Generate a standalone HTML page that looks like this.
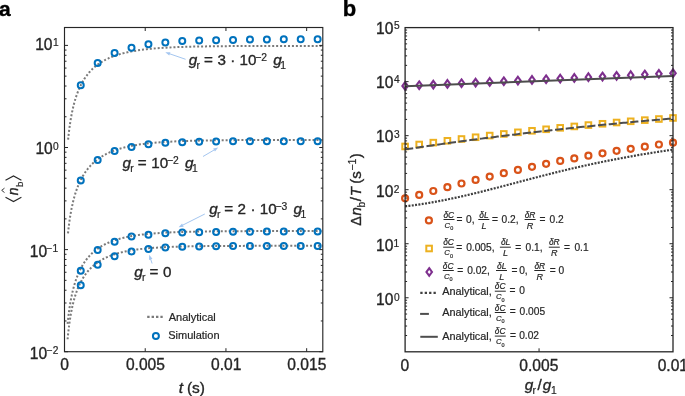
<!DOCTYPE html>
<html><head><meta charset="utf-8"><style>
html,body{margin:0;padding:0;background:#fff;}
body{width:685px;height:396px;overflow:hidden;}
svg{display:block;will-change:transform;font-family:"Liberation Sans", sans-serif;}
</style></head><body>
<svg width="685" height="396" viewBox="0 0 685 396">
<rect width="685" height="396" fill="#fff"/>
<text x="-0.91" y="15.60" font-size="21" font-weight="bold" fill="#000" stroke="#000" stroke-width="0.35" >a</text>
<text x="342.65" y="15.60" font-size="22" font-weight="bold" fill="#000" stroke="#000" stroke-width="0.35" >b</text>
<path d="M68.10,139.71 L68.48,135.96 L68.87,132.55 L69.25,129.42 L69.63,126.52 L70.02,123.84 L70.40,121.34 L70.78,119.00 L71.17,116.81 L71.55,114.74 L71.93,112.79 L72.32,110.94 L72.70,109.19 L73.09,107.52 L73.47,105.93 L73.85,104.42 L74.24,102.97 L74.62,101.59 L75.00,100.27 L75.39,98.99 L75.77,97.77 L76.15,96.60 L76.54,95.47 L76.92,94.38 L77.30,93.32 L77.69,92.31 L78.07,91.33 L78.45,90.38 L78.84,89.47 L79.22,88.58 L79.60,87.72 L79.99,86.89 L80.37,86.08 L80.76,85.30 L81.14,84.54 L81.52,83.80 L81.91,83.08 L82.29,82.38 L82.67,81.70 L83.06,81.04 L83.44,80.40 L83.82,79.77 L84.21,79.16 L84.59,78.57 L84.97,77.99 L85.36,77.42 L85.74,76.87 L86.12,76.33 L86.51,75.80 L86.89,75.29 L87.27,74.79 L87.66,74.30 L88.04,73.82 L88.42,73.35 L88.81,72.90 L89.19,72.45 L89.58,72.01 L89.96,71.58 L90.34,71.16 L90.73,70.75 L91.11,70.35 L91.49,69.96 L91.88,69.58 L92.26,69.20 L92.64,68.83 L93.03,68.47 L93.41,68.11 L93.79,67.77 L94.18,67.42 L94.56,67.09 L94.94,66.76 L95.33,66.44 L95.71,66.13 L96.09,65.82 L96.48,65.52 L96.86,65.22 L97.25,64.93 L97.63,64.64 L98.01,64.36 L98.40,64.08 L98.78,63.81 L99.16,63.54 L99.55,63.28 L99.93,63.03 L100.31,62.77 L100.70,62.53 L101.08,62.28 L101.46,62.04 L101.85,61.81 L102.23,61.58 L102.61,61.35 L103.00,61.13 L103.38,60.91 L103.76,60.69 L104.15,60.48 L104.53,60.27 L104.92,60.07 L105.30,59.87 L105.68,59.67 L106.07,59.47 L106.45,59.28 L106.83,59.09 L107.22,58.91 L107.60,58.72 L107.98,58.54 L108.37,58.37 L108.75,58.19 L109.13,58.02 L109.52,57.85 L109.90,57.69 L110.28,57.52 L110.67,57.36 L111.05,57.21 L111.43,57.05 L111.82,56.90 L112.20,56.75 L112.58,56.60 L112.97,56.45 L113.35,56.31 L113.74,56.16 L114.12,56.03 L114.50,55.89 L114.89,55.75 L115.27,55.62 L115.65,55.49 L116.04,55.36 L116.42,55.23 L116.80,55.10 L117.19,54.98 L117.57,54.86 L117.95,54.74 L118.34,54.62 L118.72,54.50 L119.10,54.39 L119.49,54.28 L119.87,54.16 L120.25,54.05 L120.64,53.95 L121.02,53.84 L121.41,53.73 L121.79,53.63 L122.17,53.53 L122.56,53.43 L122.94,53.33 L123.32,53.23 L123.71,53.13 L124.09,53.04 L124.47,52.94 L124.86,52.85 L125.24,52.76 L125.62,52.67 L126.01,52.58 L126.39,52.49 L126.77,52.41 L127.16,52.32 L127.54,52.24 L127.92,52.16 L128.31,52.08 L128.69,51.99 L129.07,51.92 L130.69,51.59 L133.95,51.00 L137.20,50.47 L140.46,50.00 L143.71,49.58 L146.97,49.20 L150.23,48.86 L153.48,48.56 L156.74,48.29 L159.99,48.05 L163.25,47.83 L166.51,47.63 L169.76,47.46 L173.02,47.30 L176.27,47.16 L179.53,47.03 L182.79,46.91 L186.04,46.81 L189.30,46.72 L192.56,46.63 L195.81,46.56 L199.07,46.49 L202.32,46.43 L205.58,46.38 L208.84,46.33 L212.09,46.28 L215.35,46.24 L218.60,46.20 L221.86,46.17 L225.12,46.14 L228.37,46.12 L231.63,46.09 L234.88,46.07 L238.14,46.05 L241.40,46.03 L244.65,46.02 L247.91,46.00 L251.17,45.99 L254.42,45.98 L257.68,45.97 L260.93,45.96 L264.19,45.95 L267.45,45.94 L270.70,45.94 L273.96,45.93 L277.21,45.92 L280.47,45.92 L283.73,45.91 L286.98,45.91 L290.24,45.91 L293.49,45.90 L296.75,45.90 L300.01,45.90 L303.26,45.90 L306.52,45.89 L309.78,45.89 L313.03,45.89 L316.29,45.89 L319.54,45.89 L322.80,45.88" fill="none" stroke="#7a7a7a" stroke-width="2.0" stroke-dasharray="2 1.95"/>
<path d="M68.00,233.39 L68.38,229.79 L68.77,226.50 L69.15,223.47 L69.54,220.66 L69.92,218.05 L70.30,215.62 L70.69,213.34 L71.07,211.19 L71.46,209.17 L71.84,207.26 L72.23,205.44 L72.61,203.72 L72.99,202.08 L73.38,200.52 L73.76,199.03 L74.15,197.60 L74.53,196.24 L74.91,194.93 L75.30,193.67 L75.68,192.46 L76.07,191.30 L76.45,190.18 L76.83,189.10 L77.22,188.06 L77.60,187.05 L77.99,186.08 L78.37,185.14 L78.76,184.23 L79.14,183.35 L79.52,182.49 L79.91,181.66 L80.29,180.86 L80.68,180.08 L81.06,179.32 L81.44,178.58 L81.83,177.87 L82.21,177.17 L82.60,176.49 L82.98,175.83 L83.36,175.19 L83.75,174.56 L84.13,173.95 L84.52,173.36 L84.90,172.78 L85.29,172.21 L85.67,171.66 L86.05,171.12 L86.44,170.59 L86.82,170.08 L87.21,169.58 L87.59,169.08 L87.97,168.60 L88.36,168.14 L88.74,167.68 L89.13,167.23 L89.51,166.79 L89.89,166.36 L90.28,165.94 L90.66,165.52 L91.05,165.12 L91.43,164.72 L91.82,164.34 L92.20,163.96 L92.58,163.59 L92.97,163.22 L93.35,162.86 L93.74,162.51 L94.12,162.17 L94.50,161.83 L94.89,161.50 L95.27,161.18 L95.66,160.86 L96.04,160.55 L96.42,160.24 L96.81,159.94 L97.19,159.65 L97.58,159.36 L97.96,159.07 L98.35,158.79 L98.73,158.52 L99.11,158.25 L99.50,157.98 L99.88,157.72 L100.27,157.47 L100.65,157.22 L101.03,156.97 L101.42,156.73 L101.80,156.49 L102.19,156.25 L102.57,156.02 L102.95,155.80 L103.34,155.57 L103.72,155.35 L104.11,155.14 L104.49,154.93 L104.88,154.72 L105.26,154.51 L105.64,154.31 L106.03,154.11 L106.41,153.92 L106.80,153.72 L107.18,153.53 L107.56,153.35 L107.95,153.16 L108.33,152.98 L108.72,152.81 L109.10,152.63 L109.48,152.46 L109.87,152.29 L110.25,152.12 L110.64,151.96 L111.02,151.80 L111.41,151.64 L111.79,151.48 L112.17,151.33 L112.56,151.18 L112.94,151.03 L113.33,150.88 L113.71,150.73 L114.09,150.59 L114.48,150.45 L114.86,150.31 L115.25,150.17 L115.63,150.04 L116.01,149.91 L116.40,149.77 L116.78,149.65 L117.17,149.52 L117.55,149.39 L117.94,149.27 L118.32,149.15 L118.70,149.03 L119.09,148.91 L119.47,148.79 L119.86,148.68 L120.24,148.56 L120.62,148.45 L121.01,148.34 L121.39,148.23 L121.78,148.13 L122.16,148.02 L122.54,147.92 L122.93,147.81 L123.31,147.71 L123.70,147.61 L124.08,147.52 L124.47,147.42 L124.85,147.32 L125.23,147.23 L125.62,147.14 L126.00,147.04 L126.39,146.95 L126.77,146.86 L127.15,146.78 L127.54,146.69 L127.92,146.60 L128.31,146.52 L128.69,146.44 L129.07,146.35 L130.69,146.02 L133.95,145.40 L137.20,144.85 L140.46,144.36 L143.71,143.92 L146.97,143.52 L150.23,143.16 L153.48,142.84 L156.74,142.56 L159.99,142.30 L163.25,142.07 L166.51,141.86 L169.76,141.67 L173.02,141.50 L176.27,141.35 L179.53,141.21 L182.79,141.08 L186.04,140.97 L189.30,140.87 L192.56,140.78 L195.81,140.69 L199.07,140.62 L202.32,140.55 L205.58,140.49 L208.84,140.43 L212.09,140.38 L215.35,140.34 L218.60,140.30 L221.86,140.26 L225.12,140.23 L228.37,140.20 L231.63,140.17 L234.88,140.14 L238.14,140.12 L241.40,140.10 L244.65,140.08 L247.91,140.07 L251.17,140.05 L254.42,140.04 L257.68,140.03 L260.93,140.02 L264.19,140.01 L267.45,140.00 L270.70,139.99 L273.96,139.98 L277.21,139.97 L280.47,139.97 L283.73,139.96 L286.98,139.96 L290.24,139.95 L293.49,139.95 L296.75,139.95 L300.01,139.94 L303.26,139.94 L306.52,139.94 L309.78,139.93 L313.03,139.93 L316.29,139.93 L319.54,139.93 L322.80,139.93" fill="none" stroke="#7a7a7a" stroke-width="2.0" stroke-dasharray="2 1.95"/>
<path d="M67.60,323.82 L67.99,320.04 L68.37,316.60 L68.76,313.44 L69.15,310.53 L69.53,307.83 L69.92,305.32 L70.31,302.97 L70.69,300.77 L71.08,298.69 L71.47,296.74 L71.85,294.88 L72.24,293.13 L72.63,291.46 L73.01,289.88 L73.40,288.36 L73.79,286.92 L74.17,285.53 L74.56,284.21 L74.95,282.94 L75.33,281.72 L75.72,280.55 L76.11,279.42 L76.49,278.34 L76.88,277.29 L77.27,276.28 L77.65,275.30 L78.04,274.36 L78.43,273.45 L78.81,272.57 L79.20,271.71 L79.59,270.88 L79.97,270.08 L80.36,269.30 L80.75,268.55 L81.13,267.82 L81.52,267.10 L81.91,266.41 L82.29,265.74 L82.68,265.08 L83.07,264.44 L83.45,263.82 L83.84,263.22 L84.23,262.63 L84.61,262.06 L85.00,261.50 L85.39,260.95 L85.77,260.42 L86.16,259.90 L86.55,259.39 L86.93,258.90 L87.32,258.41 L87.71,257.94 L88.09,257.48 L88.48,257.03 L88.86,256.59 L89.25,256.15 L89.64,255.73 L90.02,255.32 L90.41,254.92 L90.80,254.52 L91.18,254.13 L91.57,253.76 L91.96,253.38 L92.34,253.02 L92.73,252.67 L93.12,252.32 L93.50,251.98 L93.89,251.64 L94.28,251.31 L94.66,250.99 L95.05,250.68 L95.44,250.37 L95.82,250.07 L96.21,249.77 L96.60,249.48 L96.98,249.19 L97.37,248.91 L97.76,248.64 L98.14,248.36 L98.53,248.10 L98.92,247.84 L99.30,247.58 L99.69,247.33 L100.08,247.09 L100.46,246.84 L100.85,246.61 L101.24,246.37 L101.62,246.14 L102.01,245.92 L102.40,245.70 L102.78,245.48 L103.17,245.27 L103.56,245.06 L103.94,244.85 L104.33,244.65 L104.72,244.45 L105.10,244.25 L105.49,244.06 L105.88,243.87 L106.26,243.68 L106.65,243.50 L107.04,243.32 L107.42,243.14 L107.81,242.97 L108.20,242.79 L108.58,242.63 L108.97,242.46 L109.36,242.30 L109.74,242.14 L110.13,241.98 L110.52,241.82 L110.90,241.67 L111.29,241.52 L111.68,241.37 L112.06,241.22 L112.45,241.08 L112.84,240.94 L113.22,240.80 L113.61,240.66 L114.00,240.53 L114.38,240.40 L114.77,240.26 L115.16,240.14 L115.54,240.01 L115.93,239.88 L116.32,239.76 L116.70,239.64 L117.09,239.52 L117.48,239.40 L117.86,239.29 L118.25,239.17 L118.64,239.06 L119.02,238.95 L119.41,238.84 L119.80,238.74 L120.18,238.63 L120.57,238.53 L120.96,238.42 L121.34,238.32 L121.73,238.22 L122.12,238.13 L122.50,238.03 L122.89,237.93 L123.28,237.84 L123.66,237.75 L124.05,237.66 L124.44,237.57 L124.82,237.48 L125.21,237.39 L125.60,237.31 L125.98,237.22 L126.37,237.14 L126.76,237.05 L127.14,236.97 L127.53,236.89 L127.92,236.82 L128.30,236.74 L128.69,236.66 L129.07,236.59 L130.69,236.28 L133.95,235.72 L137.20,235.22 L140.46,234.78 L143.71,234.39 L146.97,234.03 L150.23,233.72 L153.48,233.44 L156.74,233.19 L159.99,232.96 L163.25,232.76 L166.51,232.58 L169.76,232.42 L173.02,232.28 L176.27,232.15 L179.53,232.03 L182.79,231.93 L186.04,231.84 L189.30,231.75 L192.56,231.68 L195.81,231.61 L199.07,231.55 L202.32,231.49 L205.58,231.45 L208.84,231.40 L212.09,231.36 L215.35,231.33 L218.60,231.29 L221.86,231.27 L225.12,231.24 L228.37,231.22 L231.63,231.20 L234.88,231.18 L238.14,231.16 L241.40,231.15 L244.65,231.13 L247.91,231.12 L251.17,231.11 L254.42,231.10 L257.68,231.09 L260.93,231.08 L264.19,231.07 L267.45,231.07 L270.70,231.06 L273.96,231.06 L277.21,231.05 L280.47,231.05 L283.73,231.04 L286.98,231.04 L290.24,231.04 L293.49,231.04 L296.75,231.03 L300.01,231.03 L303.26,231.03 L306.52,231.03 L309.78,231.02 L313.03,231.02 L316.29,231.02 L319.54,231.02 L322.80,231.02" fill="none" stroke="#7a7a7a" stroke-width="2.0" stroke-dasharray="2 1.95"/>
<path d="M67.60,339.27 L67.99,335.22 L68.37,331.56 L68.76,328.22 L69.15,325.15 L69.53,322.32 L69.92,319.69 L70.31,317.24 L70.69,314.95 L71.08,312.80 L71.47,310.78 L71.85,308.87 L72.24,307.06 L72.63,305.34 L73.01,303.71 L73.40,302.16 L73.79,300.68 L74.17,299.27 L74.56,297.92 L74.95,296.63 L75.33,295.38 L75.72,294.19 L76.11,293.05 L76.49,291.95 L76.88,290.88 L77.27,289.86 L77.65,288.87 L78.04,287.92 L78.43,287.00 L78.81,286.11 L79.20,285.25 L79.59,284.42 L79.97,283.61 L80.36,282.83 L80.75,282.07 L81.13,281.33 L81.52,280.62 L81.91,279.92 L82.29,279.25 L82.68,278.59 L83.07,277.96 L83.45,277.33 L83.84,276.73 L84.23,276.14 L84.61,275.57 L85.00,275.01 L85.39,274.47 L85.77,273.94 L86.16,273.42 L86.55,272.92 L86.93,272.43 L87.32,271.95 L87.71,271.48 L88.09,271.02 L88.48,270.57 L88.86,270.13 L89.25,269.71 L89.64,269.29 L90.02,268.88 L90.41,268.48 L90.80,268.09 L91.18,267.71 L91.57,267.34 L91.96,266.97 L92.34,266.61 L92.73,266.26 L93.12,265.92 L93.50,265.59 L93.89,265.26 L94.28,264.94 L94.66,264.62 L95.05,264.31 L95.44,264.01 L95.82,263.71 L96.21,263.42 L96.60,263.13 L96.98,262.85 L97.37,262.58 L97.76,262.31 L98.14,262.05 L98.53,261.79 L98.92,261.53 L99.30,261.28 L99.69,261.04 L100.08,260.80 L100.46,260.56 L100.85,260.33 L101.24,260.11 L101.62,259.88 L102.01,259.66 L102.40,259.45 L102.78,259.24 L103.17,259.03 L103.56,258.83 L103.94,258.63 L104.33,258.43 L104.72,258.24 L105.10,258.05 L105.49,257.86 L105.88,257.68 L106.26,257.50 L106.65,257.32 L107.04,257.15 L107.42,256.98 L107.81,256.81 L108.20,256.64 L108.58,256.48 L108.97,256.32 L109.36,256.16 L109.74,256.01 L110.13,255.86 L110.52,255.71 L110.90,255.56 L111.29,255.42 L111.68,255.27 L112.06,255.13 L112.45,255.00 L112.84,254.86 L113.22,254.73 L113.61,254.60 L114.00,254.47 L114.38,254.34 L114.77,254.22 L115.16,254.10 L115.54,253.97 L115.93,253.86 L116.32,253.74 L116.70,253.62 L117.09,253.51 L117.48,253.40 L117.86,253.29 L118.25,253.18 L118.64,253.07 L119.02,252.97 L119.41,252.87 L119.80,252.77 L120.18,252.67 L120.57,252.57 L120.96,252.47 L121.34,252.37 L121.73,252.28 L122.12,252.19 L122.50,252.10 L122.89,252.01 L123.28,251.92 L123.66,251.83 L124.05,251.75 L124.44,251.66 L124.82,251.58 L125.21,251.50 L125.60,251.42 L125.98,251.34 L126.37,251.26 L126.76,251.18 L127.14,251.11 L127.53,251.03 L127.92,250.96 L128.30,250.89 L128.69,250.81 L129.07,250.74 L130.69,250.46 L133.95,249.94 L137.20,249.48 L140.46,249.07 L143.71,248.71 L146.97,248.39 L150.23,248.11 L153.48,247.85 L156.74,247.63 L159.99,247.43 L163.25,247.25 L166.51,247.09 L169.76,246.95 L173.02,246.83 L176.27,246.71 L179.53,246.61 L182.79,246.52 L186.04,246.45 L189.30,246.37 L192.56,246.31 L195.81,246.25 L199.07,246.20 L202.32,246.16 L205.58,246.12 L208.84,246.08 L212.09,246.05 L215.35,246.02 L218.60,245.99 L221.86,245.97 L225.12,245.95 L228.37,245.93 L231.63,245.92 L234.88,245.90 L238.14,245.89 L241.40,245.88 L244.65,245.87 L247.91,245.86 L251.17,245.85 L254.42,245.84 L257.68,245.83 L260.93,245.83 L264.19,245.82 L267.45,245.82 L270.70,245.81 L273.96,245.81 L277.21,245.81 L280.47,245.80 L283.73,245.80 L286.98,245.80 L290.24,245.80 L293.49,245.80 L296.75,245.79 L300.01,245.79 L303.26,245.79 L306.52,245.79 L309.78,245.79 L313.03,245.79 L316.29,245.79 L319.54,245.79 L322.80,245.78" fill="none" stroke="#7a7a7a" stroke-width="2.0" stroke-dasharray="2 1.95"/>
<circle cx="80.75" cy="85.20" r="3.0" fill="none" stroke="#0072BD" stroke-width="2.0"/>
<circle cx="97.67" cy="63.00" r="3.0" fill="none" stroke="#0072BD" stroke-width="2.0"/>
<circle cx="114.59" cy="53.00" r="3.0" fill="none" stroke="#0072BD" stroke-width="2.0"/>
<circle cx="131.51" cy="47.80" r="3.0" fill="none" stroke="#0072BD" stroke-width="2.0"/>
<circle cx="148.43" cy="44.20" r="3.0" fill="none" stroke="#0072BD" stroke-width="2.0"/>
<circle cx="165.35" cy="42.60" r="3.0" fill="none" stroke="#0072BD" stroke-width="2.0"/>
<circle cx="182.27" cy="41.10" r="3.0" fill="none" stroke="#0072BD" stroke-width="2.0"/>
<circle cx="199.19" cy="40.50" r="3.0" fill="none" stroke="#0072BD" stroke-width="2.0"/>
<circle cx="216.11" cy="40.20" r="3.0" fill="none" stroke="#0072BD" stroke-width="2.0"/>
<circle cx="233.03" cy="39.90" r="3.0" fill="none" stroke="#0072BD" stroke-width="2.0"/>
<circle cx="249.95" cy="39.60" r="3.0" fill="none" stroke="#0072BD" stroke-width="2.0"/>
<circle cx="266.87" cy="39.40" r="3.0" fill="none" stroke="#0072BD" stroke-width="2.0"/>
<circle cx="283.79" cy="39.20" r="3.0" fill="none" stroke="#0072BD" stroke-width="2.0"/>
<circle cx="300.71" cy="39.20" r="3.0" fill="none" stroke="#0072BD" stroke-width="2.0"/>
<circle cx="317.63" cy="39.20" r="3.0" fill="none" stroke="#0072BD" stroke-width="2.0"/>
<circle cx="80.75" cy="180.40" r="3.0" fill="none" stroke="#0072BD" stroke-width="2.0"/>
<circle cx="97.67" cy="160.00" r="3.0" fill="none" stroke="#0072BD" stroke-width="2.0"/>
<circle cx="114.59" cy="151.00" r="3.0" fill="none" stroke="#0072BD" stroke-width="2.0"/>
<circle cx="131.51" cy="146.90" r="3.0" fill="none" stroke="#0072BD" stroke-width="2.0"/>
<circle cx="148.43" cy="144.20" r="3.0" fill="none" stroke="#0072BD" stroke-width="2.0"/>
<circle cx="165.35" cy="142.80" r="3.0" fill="none" stroke="#0072BD" stroke-width="2.0"/>
<circle cx="182.27" cy="142.20" r="3.0" fill="none" stroke="#0072BD" stroke-width="2.0"/>
<circle cx="199.19" cy="141.70" r="3.0" fill="none" stroke="#0072BD" stroke-width="2.0"/>
<circle cx="216.11" cy="141.50" r="3.0" fill="none" stroke="#0072BD" stroke-width="2.0"/>
<circle cx="233.03" cy="141.30" r="3.0" fill="none" stroke="#0072BD" stroke-width="2.0"/>
<circle cx="249.95" cy="141.20" r="3.0" fill="none" stroke="#0072BD" stroke-width="2.0"/>
<circle cx="266.87" cy="141.20" r="3.0" fill="none" stroke="#0072BD" stroke-width="2.0"/>
<circle cx="283.79" cy="141.20" r="3.0" fill="none" stroke="#0072BD" stroke-width="2.0"/>
<circle cx="300.71" cy="141.20" r="3.0" fill="none" stroke="#0072BD" stroke-width="2.0"/>
<circle cx="317.63" cy="141.20" r="3.0" fill="none" stroke="#0072BD" stroke-width="2.0"/>
<circle cx="80.75" cy="270.80" r="3.0" fill="none" stroke="#0072BD" stroke-width="2.0"/>
<circle cx="97.67" cy="250.10" r="3.0" fill="none" stroke="#0072BD" stroke-width="2.0"/>
<circle cx="114.59" cy="241.80" r="3.0" fill="none" stroke="#0072BD" stroke-width="2.0"/>
<circle cx="131.51" cy="236.50" r="3.0" fill="none" stroke="#0072BD" stroke-width="2.0"/>
<circle cx="148.43" cy="234.80" r="3.0" fill="none" stroke="#0072BD" stroke-width="2.0"/>
<circle cx="165.35" cy="233.20" r="3.0" fill="none" stroke="#0072BD" stroke-width="2.0"/>
<circle cx="182.27" cy="232.60" r="3.0" fill="none" stroke="#0072BD" stroke-width="2.0"/>
<circle cx="199.19" cy="232.20" r="3.0" fill="none" stroke="#0072BD" stroke-width="2.0"/>
<circle cx="216.11" cy="232.00" r="3.0" fill="none" stroke="#0072BD" stroke-width="2.0"/>
<circle cx="233.03" cy="231.80" r="3.0" fill="none" stroke="#0072BD" stroke-width="2.0"/>
<circle cx="249.95" cy="231.70" r="3.0" fill="none" stroke="#0072BD" stroke-width="2.0"/>
<circle cx="266.87" cy="231.60" r="3.0" fill="none" stroke="#0072BD" stroke-width="2.0"/>
<circle cx="283.79" cy="231.60" r="3.0" fill="none" stroke="#0072BD" stroke-width="2.0"/>
<circle cx="300.71" cy="231.60" r="3.0" fill="none" stroke="#0072BD" stroke-width="2.0"/>
<circle cx="317.63" cy="231.60" r="3.0" fill="none" stroke="#0072BD" stroke-width="2.0"/>
<circle cx="80.75" cy="285.20" r="3.0" fill="none" stroke="#0072BD" stroke-width="2.0"/>
<circle cx="97.67" cy="264.70" r="3.0" fill="none" stroke="#0072BD" stroke-width="2.0"/>
<circle cx="114.59" cy="256.20" r="3.0" fill="none" stroke="#0072BD" stroke-width="2.0"/>
<circle cx="131.51" cy="251.40" r="3.0" fill="none" stroke="#0072BD" stroke-width="2.0"/>
<circle cx="148.43" cy="249.10" r="3.0" fill="none" stroke="#0072BD" stroke-width="2.0"/>
<circle cx="165.35" cy="247.40" r="3.0" fill="none" stroke="#0072BD" stroke-width="2.0"/>
<circle cx="182.27" cy="246.80" r="3.0" fill="none" stroke="#0072BD" stroke-width="2.0"/>
<circle cx="199.19" cy="246.40" r="3.0" fill="none" stroke="#0072BD" stroke-width="2.0"/>
<circle cx="216.11" cy="246.20" r="3.0" fill="none" stroke="#0072BD" stroke-width="2.0"/>
<circle cx="233.03" cy="246.10" r="3.0" fill="none" stroke="#0072BD" stroke-width="2.0"/>
<circle cx="249.95" cy="246.00" r="3.0" fill="none" stroke="#0072BD" stroke-width="2.0"/>
<circle cx="266.87" cy="246.00" r="3.0" fill="none" stroke="#0072BD" stroke-width="2.0"/>
<circle cx="283.79" cy="246.00" r="3.0" fill="none" stroke="#0072BD" stroke-width="2.0"/>
<circle cx="300.71" cy="246.00" r="3.0" fill="none" stroke="#0072BD" stroke-width="2.0"/>
<circle cx="317.63" cy="246.00" r="3.0" fill="none" stroke="#0072BD" stroke-width="2.0"/>
<rect x="64.5" y="27.5" width="258.3" height="324.2" fill="none" stroke="#262626" stroke-width="1.15"/>
<line x1="145.22" y1="351.70" x2="145.22" y2="348.20" stroke="#262626" stroke-width="1" />
<line x1="145.22" y1="27.50" x2="145.22" y2="31.00" stroke="#262626" stroke-width="1" />
<line x1="225.94" y1="351.70" x2="225.94" y2="348.20" stroke="#262626" stroke-width="1" />
<line x1="225.94" y1="27.50" x2="225.94" y2="31.00" stroke="#262626" stroke-width="1" />
<line x1="306.66" y1="351.70" x2="306.66" y2="348.20" stroke="#262626" stroke-width="1" />
<line x1="306.66" y1="27.50" x2="306.66" y2="31.00" stroke="#262626" stroke-width="1" />
<line x1="64.50" y1="351.70" x2="68.00" y2="351.70" stroke="#262626" stroke-width="1" />
<line x1="322.80" y1="351.70" x2="319.30" y2="351.70" stroke="#262626" stroke-width="1" />
<line x1="64.50" y1="320.96" x2="66.50" y2="320.96" stroke="#262626" stroke-width="1" />
<line x1="322.80" y1="320.96" x2="320.80" y2="320.96" stroke="#262626" stroke-width="1" />
<line x1="64.50" y1="302.99" x2="66.50" y2="302.99" stroke="#262626" stroke-width="1" />
<line x1="322.80" y1="302.99" x2="320.80" y2="302.99" stroke="#262626" stroke-width="1" />
<line x1="64.50" y1="290.23" x2="66.50" y2="290.23" stroke="#262626" stroke-width="1" />
<line x1="322.80" y1="290.23" x2="320.80" y2="290.23" stroke="#262626" stroke-width="1" />
<line x1="64.50" y1="280.34" x2="66.50" y2="280.34" stroke="#262626" stroke-width="1" />
<line x1="322.80" y1="280.34" x2="320.80" y2="280.34" stroke="#262626" stroke-width="1" />
<line x1="64.50" y1="272.25" x2="66.50" y2="272.25" stroke="#262626" stroke-width="1" />
<line x1="322.80" y1="272.25" x2="320.80" y2="272.25" stroke="#262626" stroke-width="1" />
<line x1="64.50" y1="265.42" x2="66.50" y2="265.42" stroke="#262626" stroke-width="1" />
<line x1="322.80" y1="265.42" x2="320.80" y2="265.42" stroke="#262626" stroke-width="1" />
<line x1="64.50" y1="259.49" x2="66.50" y2="259.49" stroke="#262626" stroke-width="1" />
<line x1="322.80" y1="259.49" x2="320.80" y2="259.49" stroke="#262626" stroke-width="1" />
<line x1="64.50" y1="254.27" x2="66.50" y2="254.27" stroke="#262626" stroke-width="1" />
<line x1="322.80" y1="254.27" x2="320.80" y2="254.27" stroke="#262626" stroke-width="1" />
<line x1="64.50" y1="249.60" x2="68.00" y2="249.60" stroke="#262626" stroke-width="1" />
<line x1="322.80" y1="249.60" x2="319.30" y2="249.60" stroke="#262626" stroke-width="1" />
<line x1="64.50" y1="218.86" x2="66.50" y2="218.86" stroke="#262626" stroke-width="1" />
<line x1="322.80" y1="218.86" x2="320.80" y2="218.86" stroke="#262626" stroke-width="1" />
<line x1="64.50" y1="200.89" x2="66.50" y2="200.89" stroke="#262626" stroke-width="1" />
<line x1="322.80" y1="200.89" x2="320.80" y2="200.89" stroke="#262626" stroke-width="1" />
<line x1="64.50" y1="188.13" x2="66.50" y2="188.13" stroke="#262626" stroke-width="1" />
<line x1="322.80" y1="188.13" x2="320.80" y2="188.13" stroke="#262626" stroke-width="1" />
<line x1="64.50" y1="178.24" x2="66.50" y2="178.24" stroke="#262626" stroke-width="1" />
<line x1="322.80" y1="178.24" x2="320.80" y2="178.24" stroke="#262626" stroke-width="1" />
<line x1="64.50" y1="170.15" x2="66.50" y2="170.15" stroke="#262626" stroke-width="1" />
<line x1="322.80" y1="170.15" x2="320.80" y2="170.15" stroke="#262626" stroke-width="1" />
<line x1="64.50" y1="163.32" x2="66.50" y2="163.32" stroke="#262626" stroke-width="1" />
<line x1="322.80" y1="163.32" x2="320.80" y2="163.32" stroke="#262626" stroke-width="1" />
<line x1="64.50" y1="157.39" x2="66.50" y2="157.39" stroke="#262626" stroke-width="1" />
<line x1="322.80" y1="157.39" x2="320.80" y2="157.39" stroke="#262626" stroke-width="1" />
<line x1="64.50" y1="152.17" x2="66.50" y2="152.17" stroke="#262626" stroke-width="1" />
<line x1="322.80" y1="152.17" x2="320.80" y2="152.17" stroke="#262626" stroke-width="1" />
<line x1="64.50" y1="147.50" x2="68.00" y2="147.50" stroke="#262626" stroke-width="1" />
<line x1="322.80" y1="147.50" x2="319.30" y2="147.50" stroke="#262626" stroke-width="1" />
<line x1="64.50" y1="116.76" x2="66.50" y2="116.76" stroke="#262626" stroke-width="1" />
<line x1="322.80" y1="116.76" x2="320.80" y2="116.76" stroke="#262626" stroke-width="1" />
<line x1="64.50" y1="98.79" x2="66.50" y2="98.79" stroke="#262626" stroke-width="1" />
<line x1="322.80" y1="98.79" x2="320.80" y2="98.79" stroke="#262626" stroke-width="1" />
<line x1="64.50" y1="86.03" x2="66.50" y2="86.03" stroke="#262626" stroke-width="1" />
<line x1="322.80" y1="86.03" x2="320.80" y2="86.03" stroke="#262626" stroke-width="1" />
<line x1="64.50" y1="76.14" x2="66.50" y2="76.14" stroke="#262626" stroke-width="1" />
<line x1="322.80" y1="76.14" x2="320.80" y2="76.14" stroke="#262626" stroke-width="1" />
<line x1="64.50" y1="68.05" x2="66.50" y2="68.05" stroke="#262626" stroke-width="1" />
<line x1="322.80" y1="68.05" x2="320.80" y2="68.05" stroke="#262626" stroke-width="1" />
<line x1="64.50" y1="61.22" x2="66.50" y2="61.22" stroke="#262626" stroke-width="1" />
<line x1="322.80" y1="61.22" x2="320.80" y2="61.22" stroke="#262626" stroke-width="1" />
<line x1="64.50" y1="55.29" x2="66.50" y2="55.29" stroke="#262626" stroke-width="1" />
<line x1="322.80" y1="55.29" x2="320.80" y2="55.29" stroke="#262626" stroke-width="1" />
<line x1="64.50" y1="50.07" x2="66.50" y2="50.07" stroke="#262626" stroke-width="1" />
<line x1="322.80" y1="50.07" x2="320.80" y2="50.07" stroke="#262626" stroke-width="1" />
<line x1="64.50" y1="45.40" x2="68.00" y2="45.40" stroke="#262626" stroke-width="1" />
<line x1="322.80" y1="45.40" x2="319.30" y2="45.40" stroke="#262626" stroke-width="1" />
<text x="60.36" y="370.40" font-size="15.6" fill="#262626" stroke="#262626" stroke-width="0.35" >0</text>
<text x="125.92" y="370.40" font-size="15.6" fill="#262626" stroke="#262626" stroke-width="0.35" >0.005</text>
<text x="211.03" y="370.40" font-size="15.6" fill="#262626" stroke="#262626" stroke-width="0.35" >0.01</text>
<text x="287.36" y="370.40" font-size="15.6" fill="#262626" stroke="#262626" stroke-width="0.35" >0.015</text>
<text x="35.13" y="50.30" font-size="15.6" fill="#262626" stroke="#262626" stroke-width="0.35" >10</text>
<text x="52.92" y="45.50" font-size="10.2" fill="#262626" stroke="#262626" stroke-width="0.2" >1</text>
<text x="35.43" y="154.40" font-size="15.6" fill="#262626" stroke="#262626" stroke-width="0.35" >10</text>
<text x="53.00" y="150.00" font-size="10.2" fill="#262626" stroke="#262626" stroke-width="0.2" >0</text>
<text x="29.78" y="256.70" font-size="15.6" fill="#262626" stroke="#262626" stroke-width="0.35" >10</text>
<text x="46.50" y="251.80" font-size="10.2" fill="#262626" stroke="#262626" stroke-width="0.2" >−1</text>
<text x="29.73" y="358.80" font-size="15.6" fill="#262626" stroke="#262626" stroke-width="0.35" >10</text>
<text x="46.70" y="354.40" font-size="10.2" fill="#262626" stroke="#262626" stroke-width="0.2" >−2</text>
<text x="178.80" y="392.50" font-size="15.5" font-style="italic" fill="#262626" stroke="#262626" stroke-width="0.35" >t</text>
<text x="186.94" y="392.50" font-size="15.5" fill="#262626" stroke="#262626" stroke-width="0.35" >(s)</text>
<g transform="translate(17.7,188.75) rotate(-90)">
<path d="M-8.55,-12.2 L-12.85,-4.2 L-8.55,3.7" fill="none" stroke="#262626" stroke-width="1.1"/>
<path d="M8.55,-12.2 L12.85,-4.2 L8.55,3.7" fill="none" stroke="#262626" stroke-width="1.1"/>
<text x="-6.48" y="0.00" font-size="13.8" font-style="italic" fill="#262626" stroke="#262626" stroke-width="0.35" >n</text>
<path d="M-3.8,-13.2 L-1.6,-16.0 L0.6,-13.2" fill="none" stroke="#262626" stroke-width="0.9"/>
<text x="1.84" y="5.00" font-size="9.5" fill="#262626" stroke="#262626" stroke-width="0.2" >b</text>
</g>
<line x1="185.60" y1="59.30" x2="169.37" y2="53.70" stroke="#a4c6f0" stroke-width="1.0" />
<path d="M165.30,52.30 L170.42,52.16 L169.25,55.57 Z" fill="#a4c6f0"/>
<line x1="203.00" y1="156.50" x2="214.49" y2="149.77" stroke="#a4c6f0" stroke-width="1.0" />
<path d="M218.20,147.60 L214.97,151.58 L213.15,148.47 Z" fill="#a4c6f0"/>
<line x1="204.80" y1="214.00" x2="182.44" y2="225.27" stroke="#a4c6f0" stroke-width="1.0" />
<path d="M178.60,227.20 L182.08,223.43 L183.70,226.65 Z" fill="#a4c6f0"/>
<line x1="152.10" y1="263.50" x2="150.56" y2="258.88" stroke="#a4c6f0" stroke-width="1.0" />
<path d="M149.20,254.80 L152.43,258.78 L149.01,259.92 Z" fill="#a4c6f0"/>
<text x="188.87" y="65.40" font-size="15.2" font-style="italic" fill="#262626" stroke="#262626" stroke-width="0.35" >g</text>
<text x="196.62" y="69.30" font-size="10.3" fill="#262626" stroke="#262626" stroke-width="0.2" >r</text>
<text x="203.96" y="65.40" font-size="15.2" fill="#262626" stroke="#262626" stroke-width="0.35" >=</text>
<text x="217.42" y="65.40" font-size="15.2" fill="#262626" stroke="#262626" stroke-width="0.35" >3</text>
<text x="230.17" y="65.40" font-size="15.2" fill="#262626" stroke="#262626" stroke-width="0.35" >·</text>
<text x="239.44" y="65.40" font-size="15.2" fill="#262626" stroke="#262626" stroke-width="0.35" >10</text>
<text x="255.29" y="60.90" font-size="10.3" fill="#262626" stroke="#262626" stroke-width="0.2" >−2</text>
<text x="273.27" y="65.40" font-size="15.2" font-style="italic" fill="#262626" stroke="#262626" stroke-width="0.35" >g</text>
<text x="280.22" y="69.30" font-size="10.3" fill="#262626" stroke="#262626" stroke-width="0.2" >1</text>
<text x="122.57" y="168.40" font-size="15.2" font-style="italic" fill="#262626" stroke="#262626" stroke-width="0.35" >g</text>
<text x="130.32" y="172.30" font-size="10.3" fill="#262626" stroke="#262626" stroke-width="0.2" >r</text>
<text x="137.66" y="168.40" font-size="15.2" fill="#262626" stroke="#262626" stroke-width="0.35" >=</text>
<text x="151.24" y="168.40" font-size="15.2" fill="#262626" stroke="#262626" stroke-width="0.35" >10</text>
<text x="167.09" y="163.90" font-size="10.3" fill="#262626" stroke="#262626" stroke-width="0.2" >−2</text>
<text x="185.07" y="168.40" font-size="15.2" font-style="italic" fill="#262626" stroke="#262626" stroke-width="0.35" >g</text>
<text x="192.02" y="172.30" font-size="10.3" fill="#262626" stroke="#262626" stroke-width="0.2" >1</text>
<text x="209.17" y="214.20" font-size="15.2" font-style="italic" fill="#262626" stroke="#262626" stroke-width="0.35" >g</text>
<text x="216.92" y="218.10" font-size="10.3" fill="#262626" stroke="#262626" stroke-width="0.2" >r</text>
<text x="224.26" y="214.20" font-size="15.2" fill="#262626" stroke="#262626" stroke-width="0.35" >=</text>
<text x="237.54" y="214.20" font-size="15.2" fill="#262626" stroke="#262626" stroke-width="0.35" >2</text>
<text x="250.47" y="214.20" font-size="15.2" fill="#262626" stroke="#262626" stroke-width="0.35" >·</text>
<text x="259.74" y="214.20" font-size="15.2" fill="#262626" stroke="#262626" stroke-width="0.35" >10</text>
<text x="275.59" y="209.70" font-size="10.3" fill="#262626" stroke="#262626" stroke-width="0.2" >−3</text>
<text x="293.57" y="214.20" font-size="15.2" font-style="italic" fill="#262626" stroke="#262626" stroke-width="0.35" >g</text>
<text x="300.52" y="218.10" font-size="10.3" fill="#262626" stroke="#262626" stroke-width="0.2" >1</text>
<text x="134.37" y="277.40" font-size="15.2" font-style="italic" fill="#262626" stroke="#262626" stroke-width="0.35" >g</text>
<text x="142.12" y="281.30" font-size="10.3" fill="#262626" stroke="#262626" stroke-width="0.2" >r</text>
<text x="149.46" y="277.40" font-size="15.2" fill="#262626" stroke="#262626" stroke-width="0.35" >=</text>
<text x="162.91" y="277.40" font-size="15.2" fill="#262626" stroke="#262626" stroke-width="0.35" >0</text>
<path d="M147.20,316.80 L162.70,316.80" fill="none" stroke="#7a7a7a" stroke-width="2.3" stroke-dasharray="2.4 2.0"/>
<circle cx="155.9" cy="335.9" r="3.0" fill="none" stroke="#0072BD" stroke-width="2.0"/>
<text x="168.68" y="320.70" font-size="11.0" fill="#262626" stroke="#262626" stroke-width="0.2" >Analytical</text>
<text x="168.20" y="339.40" font-size="11.0" fill="#262626" stroke="#262626" stroke-width="0.2" >Simulation</text>
<circle cx="405.10" cy="198.30" r="3.0" fill="none" stroke="#D95319" stroke-width="2.2"/>
<circle cx="419.20" cy="194.90" r="3.0" fill="none" stroke="#D95319" stroke-width="2.2"/>
<circle cx="433.30" cy="191.00" r="3.0" fill="none" stroke="#D95319" stroke-width="2.2"/>
<circle cx="447.40" cy="187.20" r="3.0" fill="none" stroke="#D95319" stroke-width="2.2"/>
<circle cx="461.50" cy="183.50" r="3.0" fill="none" stroke="#D95319" stroke-width="2.2"/>
<circle cx="475.60" cy="179.90" r="3.0" fill="none" stroke="#D95319" stroke-width="2.2"/>
<circle cx="489.70" cy="176.60" r="3.0" fill="none" stroke="#D95319" stroke-width="2.2"/>
<circle cx="503.80" cy="173.20" r="3.0" fill="none" stroke="#D95319" stroke-width="2.2"/>
<circle cx="517.90" cy="169.90" r="3.0" fill="none" stroke="#D95319" stroke-width="2.2"/>
<circle cx="532.00" cy="166.80" r="3.0" fill="none" stroke="#D95319" stroke-width="2.2"/>
<circle cx="546.10" cy="163.80" r="3.0" fill="none" stroke="#D95319" stroke-width="2.2"/>
<circle cx="560.20" cy="160.90" r="3.0" fill="none" stroke="#D95319" stroke-width="2.2"/>
<circle cx="574.30" cy="158.40" r="3.0" fill="none" stroke="#D95319" stroke-width="2.2"/>
<circle cx="588.40" cy="155.70" r="3.0" fill="none" stroke="#D95319" stroke-width="2.2"/>
<circle cx="602.50" cy="153.30" r="3.0" fill="none" stroke="#D95319" stroke-width="2.2"/>
<circle cx="616.60" cy="150.80" r="3.0" fill="none" stroke="#D95319" stroke-width="2.2"/>
<circle cx="630.70" cy="148.80" r="3.0" fill="none" stroke="#D95319" stroke-width="2.2"/>
<circle cx="644.80" cy="146.70" r="3.0" fill="none" stroke="#D95319" stroke-width="2.2"/>
<circle cx="658.90" cy="144.50" r="3.0" fill="none" stroke="#D95319" stroke-width="2.2"/>
<circle cx="673.00" cy="142.70" r="3.0" fill="none" stroke="#D95319" stroke-width="2.2"/>
<rect x="402.30" y="143.65" width="5.6" height="5.6" fill="none" stroke="#EDB120" stroke-width="2.0"/>
<rect x="416.40" y="141.71" width="5.6" height="5.6" fill="none" stroke="#EDB120" stroke-width="2.0"/>
<rect x="430.50" y="139.83" width="5.6" height="5.6" fill="none" stroke="#EDB120" stroke-width="2.0"/>
<rect x="444.60" y="137.99" width="5.6" height="5.6" fill="none" stroke="#EDB120" stroke-width="2.0"/>
<rect x="458.70" y="136.20" width="5.6" height="5.6" fill="none" stroke="#EDB120" stroke-width="2.0"/>
<rect x="472.80" y="134.46" width="5.6" height="5.6" fill="none" stroke="#EDB120" stroke-width="2.0"/>
<rect x="486.90" y="132.77" width="5.6" height="5.6" fill="none" stroke="#EDB120" stroke-width="2.0"/>
<rect x="501.00" y="131.13" width="5.6" height="5.6" fill="none" stroke="#EDB120" stroke-width="2.0"/>
<rect x="515.10" y="129.53" width="5.6" height="5.6" fill="none" stroke="#EDB120" stroke-width="2.0"/>
<rect x="529.20" y="127.99" width="5.6" height="5.6" fill="none" stroke="#EDB120" stroke-width="2.0"/>
<rect x="543.30" y="126.49" width="5.6" height="5.6" fill="none" stroke="#EDB120" stroke-width="2.0"/>
<rect x="557.40" y="125.04" width="5.6" height="5.6" fill="none" stroke="#EDB120" stroke-width="2.0"/>
<rect x="571.50" y="123.63" width="5.6" height="5.6" fill="none" stroke="#EDB120" stroke-width="2.0"/>
<rect x="585.60" y="122.28" width="5.6" height="5.6" fill="none" stroke="#EDB120" stroke-width="2.0"/>
<rect x="599.70" y="120.97" width="5.6" height="5.6" fill="none" stroke="#EDB120" stroke-width="2.0"/>
<rect x="613.80" y="119.71" width="5.6" height="5.6" fill="none" stroke="#EDB120" stroke-width="2.0"/>
<rect x="627.90" y="118.50" width="5.6" height="5.6" fill="none" stroke="#EDB120" stroke-width="2.0"/>
<rect x="642.00" y="117.34" width="5.6" height="5.6" fill="none" stroke="#EDB120" stroke-width="2.0"/>
<rect x="656.10" y="116.23" width="5.6" height="5.6" fill="none" stroke="#EDB120" stroke-width="2.0"/>
<rect x="670.20" y="115.16" width="5.6" height="5.6" fill="none" stroke="#EDB120" stroke-width="2.0"/>
<path d="M405.10,82.10 L407.85,85.90 L405.10,89.70 L402.35,85.90 Z" fill="none" stroke="#7E2F8E" stroke-width="2.1"/>
<path d="M419.20,81.43 L421.95,85.23 L419.20,89.03 L416.45,85.23 Z" fill="none" stroke="#7E2F8E" stroke-width="2.1"/>
<path d="M433.30,80.76 L436.05,84.56 L433.30,88.36 L430.55,84.56 Z" fill="none" stroke="#7E2F8E" stroke-width="2.1"/>
<path d="M447.40,80.09 L450.15,83.89 L447.40,87.69 L444.65,83.89 Z" fill="none" stroke="#7E2F8E" stroke-width="2.1"/>
<path d="M461.50,79.43 L464.25,83.23 L461.50,87.03 L458.75,83.23 Z" fill="none" stroke="#7E2F8E" stroke-width="2.1"/>
<path d="M475.60,78.76 L478.35,82.56 L475.60,86.36 L472.85,82.56 Z" fill="none" stroke="#7E2F8E" stroke-width="2.1"/>
<path d="M489.70,78.09 L492.45,81.89 L489.70,85.69 L486.95,81.89 Z" fill="none" stroke="#7E2F8E" stroke-width="2.1"/>
<path d="M503.80,77.42 L506.55,81.22 L503.80,85.02 L501.05,81.22 Z" fill="none" stroke="#7E2F8E" stroke-width="2.1"/>
<path d="M517.90,76.75 L520.65,80.55 L517.90,84.35 L515.15,80.55 Z" fill="none" stroke="#7E2F8E" stroke-width="2.1"/>
<path d="M532.00,76.08 L534.75,79.88 L532.00,83.68 L529.25,79.88 Z" fill="none" stroke="#7E2F8E" stroke-width="2.1"/>
<path d="M546.10,75.42 L548.85,79.22 L546.10,83.02 L543.35,79.22 Z" fill="none" stroke="#7E2F8E" stroke-width="2.1"/>
<path d="M560.20,74.75 L562.95,78.55 L560.20,82.35 L557.45,78.55 Z" fill="none" stroke="#7E2F8E" stroke-width="2.1"/>
<path d="M574.30,74.08 L577.05,77.88 L574.30,81.68 L571.55,77.88 Z" fill="none" stroke="#7E2F8E" stroke-width="2.1"/>
<path d="M588.40,73.41 L591.15,77.21 L588.40,81.01 L585.65,77.21 Z" fill="none" stroke="#7E2F8E" stroke-width="2.1"/>
<path d="M602.50,72.74 L605.25,76.54 L602.50,80.34 L599.75,76.54 Z" fill="none" stroke="#7E2F8E" stroke-width="2.1"/>
<path d="M616.60,72.07 L619.35,75.87 L616.60,79.67 L613.85,75.87 Z" fill="none" stroke="#7E2F8E" stroke-width="2.1"/>
<path d="M630.70,71.41 L633.45,75.21 L630.70,79.01 L627.95,75.21 Z" fill="none" stroke="#7E2F8E" stroke-width="2.1"/>
<path d="M644.80,70.74 L647.55,74.54 L644.80,78.34 L642.05,74.54 Z" fill="none" stroke="#7E2F8E" stroke-width="2.1"/>
<path d="M658.90,70.07 L661.65,73.87 L658.90,77.67 L656.15,73.87 Z" fill="none" stroke="#7E2F8E" stroke-width="2.1"/>
<path d="M673.00,69.40 L675.75,73.20 L673.00,77.00 L670.25,73.20 Z" fill="none" stroke="#7E2F8E" stroke-width="2.1"/>
<path d="M405.10,86.30 L673.00,76.05" fill="none" stroke="#4d4d4d" stroke-width="2.0" />
<path d="M405.10,149.44 L407.35,149.10 L409.60,148.76 L411.85,148.42 L414.11,148.08 L416.36,147.74 L418.61,147.40 L420.86,147.07 L423.11,146.73 L425.36,146.40 L427.61,146.07 L429.86,145.74 L432.12,145.42 L434.37,145.09 L436.62,144.77 L438.87,144.45 L441.12,144.13 L443.37,143.81 L445.62,143.49 L447.87,143.17 L450.13,142.86 L452.38,142.55 L454.63,142.23 L456.88,141.93 L459.13,141.62 L461.38,141.31 L463.63,141.01 L465.88,140.70 L468.14,140.40 L470.39,140.10 L472.64,139.80 L474.89,139.50 L477.14,139.21 L479.39,138.91 L481.64,138.62 L483.89,138.33 L486.15,138.04 L488.40,137.75 L490.65,137.46 L492.90,137.17 L495.15,136.89 L497.40,136.61 L499.65,136.32 L501.90,136.04 L504.16,135.76 L506.41,135.49 L508.66,135.21 L510.91,134.94 L513.16,134.66 L515.41,134.39 L517.66,134.12 L519.91,133.85 L522.17,133.58 L524.42,133.32 L526.67,133.05 L528.92,132.79 L531.17,132.53 L533.42,132.27 L535.67,132.01 L537.92,131.75 L540.18,131.49 L542.43,131.24 L544.68,130.98 L546.93,130.73 L549.18,130.48 L551.43,130.23 L553.68,129.98 L555.93,129.73 L558.19,129.48 L560.44,129.24 L562.69,128.99 L564.94,128.75 L567.19,128.51 L569.44,128.27 L571.69,128.03 L573.94,127.79 L576.20,127.56 L578.45,127.32 L580.70,127.09 L582.95,126.86 L585.20,126.62 L587.45,126.39 L589.70,126.16 L591.95,125.94 L594.21,125.71 L596.46,125.48 L598.71,125.26 L600.96,125.04 L603.21,124.82 L605.46,124.59 L607.71,124.37 L609.96,124.16 L612.22,123.94 L614.47,123.72 L616.72,123.51 L618.97,123.29 L621.22,123.08 L623.47,122.87 L625.72,122.66 L627.97,122.45 L630.23,122.24 L632.48,122.04 L634.73,121.83 L636.98,121.62 L639.23,121.42 L641.48,121.22 L643.73,121.02 L645.98,120.82 L648.24,120.62 L650.49,120.42 L652.74,120.22 L654.99,120.02 L657.24,119.83 L659.49,119.64 L661.74,119.44 L663.99,119.25 L666.25,119.06 L668.50,118.87 L670.75,118.68 L673.00,118.49" fill="none" stroke="#4d4d4d" stroke-width="2.0" stroke-dasharray="8.2 2.6"/>
<path d="M405.10,206.31 L406.45,206.15 L407.79,206.00 L409.14,205.83 L410.48,205.67 L411.83,205.49 L413.18,205.32 L414.52,205.14 L415.87,204.95 L417.22,204.76 L418.56,204.56 L419.91,204.37 L421.25,204.16 L422.60,203.95 L423.95,203.74 L425.29,203.53 L426.64,203.31 L427.99,203.08 L429.33,202.86 L430.68,202.63 L432.02,202.39 L433.37,202.15 L434.72,201.91 L436.06,201.66 L437.41,201.41 L438.76,201.16 L440.10,200.90 L441.45,200.64 L442.79,200.38 L444.14,200.11 L445.49,199.84 L446.83,199.57 L448.18,199.29 L449.53,199.01 L450.87,198.73 L452.22,198.45 L453.56,198.16 L454.91,197.87 L456.26,197.58 L457.60,197.28 L458.95,196.98 L460.30,196.68 L461.64,196.38 L462.99,196.07 L464.33,195.76 L465.68,195.45 L467.03,195.14 L468.37,194.82 L469.72,194.51 L471.07,194.19 L472.41,193.86 L473.76,193.54 L475.10,193.22 L476.45,192.89 L477.80,192.56 L479.14,192.23 L480.49,191.90 L481.84,191.56 L483.18,191.23 L484.53,190.89 L485.87,190.55 L487.22,190.21 L488.57,189.87 L489.91,189.53 L491.26,189.18 L492.61,188.84 L493.95,188.49 L495.30,188.14 L496.64,187.80 L497.99,187.45 L499.34,187.10 L500.68,186.75 L502.03,186.39 L503.37,186.04 L504.72,185.69 L506.07,185.34 L507.41,184.98 L508.76,184.63 L510.11,184.27 L511.45,183.92 L512.80,183.56 L514.14,183.21 L515.49,182.85 L516.84,182.50 L518.18,182.14 L519.53,181.78 L520.88,181.43 L522.22,181.07 L523.57,180.72 L524.91,180.36 L526.26,180.01 L527.61,179.65 L528.95,179.30 L530.30,178.95 L531.65,178.59 L532.99,178.24 L534.34,177.89 L535.68,177.54 L537.03,177.19 L538.38,176.84 L539.72,176.49 L541.07,176.14 L542.42,175.79 L543.76,175.45 L545.11,175.10 L546.45,174.76 L547.80,174.42 L549.15,174.08 L550.49,173.74 L551.84,173.40 L553.19,173.06 L554.53,172.73 L555.88,172.40 L557.22,172.06 L558.57,171.73 L559.92,171.41 L561.26,171.08 L562.61,170.75 L563.96,170.43 L565.30,170.11 L566.65,169.79 L567.99,169.47 L569.34,169.15 L570.69,168.83 L572.03,168.52 L573.38,168.21 L574.73,167.90 L576.07,167.59 L577.42,167.28 L578.76,166.98 L580.11,166.67 L581.46,166.37 L582.80,166.07 L584.15,165.77 L585.49,165.47 L586.84,165.17 L588.19,164.88 L589.53,164.59 L590.88,164.30 L592.23,164.01 L593.57,163.72 L594.92,163.43 L596.26,163.15 L597.61,162.86 L598.96,162.58 L600.30,162.30 L601.65,162.02 L603.00,161.75 L604.34,161.47 L605.69,161.20 L607.03,160.93 L608.38,160.66 L609.73,160.39 L611.07,160.12 L612.42,159.86 L613.77,159.60 L615.11,159.33 L616.46,159.07 L617.80,158.82 L619.15,158.56 L620.50,158.30 L621.84,158.05 L623.19,157.80 L624.54,157.55 L625.88,157.30 L627.23,157.05 L628.57,156.81 L629.92,156.56 L631.27,156.32 L632.61,156.08 L633.96,155.84 L635.31,155.61 L636.65,155.37 L638.00,155.14 L639.34,154.91 L640.69,154.68 L642.04,154.45 L643.38,154.22 L644.73,154.00 L646.08,153.77 L647.42,153.55 L648.77,153.33 L650.11,153.11 L651.46,152.89 L652.81,152.68 L654.15,152.47 L655.50,152.25 L656.85,152.04 L658.19,151.83 L659.54,151.63 L660.88,151.42 L662.23,151.22 L663.58,151.02 L664.92,150.82 L666.27,150.62 L667.62,150.42 L668.96,150.23 L670.31,150.03 L671.65,149.84 L673.00,149.65" fill="none" stroke="#404040" stroke-width="2.2" stroke-dasharray="2.0 1.35"/>
<rect x="405.1" y="27.6" width="267.9" height="324.2" fill="none" stroke="#262626" stroke-width="1.3"/>
<line x1="539.05" y1="351.80" x2="539.05" y2="348.30" stroke="#262626" stroke-width="1" />
<line x1="539.05" y1="27.60" x2="539.05" y2="31.10" stroke="#262626" stroke-width="1" />
<line x1="405.10" y1="335.53" x2="407.10" y2="335.53" stroke="#262626" stroke-width="1" />
<line x1="673.00" y1="335.53" x2="671.00" y2="335.53" stroke="#262626" stroke-width="1" />
<line x1="405.10" y1="326.02" x2="407.10" y2="326.02" stroke="#262626" stroke-width="1" />
<line x1="673.00" y1="326.02" x2="671.00" y2="326.02" stroke="#262626" stroke-width="1" />
<line x1="405.10" y1="319.27" x2="407.10" y2="319.27" stroke="#262626" stroke-width="1" />
<line x1="673.00" y1="319.27" x2="671.00" y2="319.27" stroke="#262626" stroke-width="1" />
<line x1="405.10" y1="314.03" x2="407.10" y2="314.03" stroke="#262626" stroke-width="1" />
<line x1="673.00" y1="314.03" x2="671.00" y2="314.03" stroke="#262626" stroke-width="1" />
<line x1="405.10" y1="309.75" x2="407.10" y2="309.75" stroke="#262626" stroke-width="1" />
<line x1="673.00" y1="309.75" x2="671.00" y2="309.75" stroke="#262626" stroke-width="1" />
<line x1="405.10" y1="306.14" x2="407.10" y2="306.14" stroke="#262626" stroke-width="1" />
<line x1="673.00" y1="306.14" x2="671.00" y2="306.14" stroke="#262626" stroke-width="1" />
<line x1="405.10" y1="303.00" x2="407.10" y2="303.00" stroke="#262626" stroke-width="1" />
<line x1="673.00" y1="303.00" x2="671.00" y2="303.00" stroke="#262626" stroke-width="1" />
<line x1="405.10" y1="300.24" x2="407.10" y2="300.24" stroke="#262626" stroke-width="1" />
<line x1="673.00" y1="300.24" x2="671.00" y2="300.24" stroke="#262626" stroke-width="1" />
<line x1="405.10" y1="297.77" x2="408.60" y2="297.77" stroke="#262626" stroke-width="1" />
<line x1="673.00" y1="297.77" x2="669.50" y2="297.77" stroke="#262626" stroke-width="1" />
<line x1="405.10" y1="281.50" x2="407.10" y2="281.50" stroke="#262626" stroke-width="1" />
<line x1="673.00" y1="281.50" x2="671.00" y2="281.50" stroke="#262626" stroke-width="1" />
<line x1="405.10" y1="271.99" x2="407.10" y2="271.99" stroke="#262626" stroke-width="1" />
<line x1="673.00" y1="271.99" x2="671.00" y2="271.99" stroke="#262626" stroke-width="1" />
<line x1="405.10" y1="265.24" x2="407.10" y2="265.24" stroke="#262626" stroke-width="1" />
<line x1="673.00" y1="265.24" x2="671.00" y2="265.24" stroke="#262626" stroke-width="1" />
<line x1="405.10" y1="260.00" x2="407.10" y2="260.00" stroke="#262626" stroke-width="1" />
<line x1="673.00" y1="260.00" x2="671.00" y2="260.00" stroke="#262626" stroke-width="1" />
<line x1="405.10" y1="255.72" x2="407.10" y2="255.72" stroke="#262626" stroke-width="1" />
<line x1="673.00" y1="255.72" x2="671.00" y2="255.72" stroke="#262626" stroke-width="1" />
<line x1="405.10" y1="252.10" x2="407.10" y2="252.10" stroke="#262626" stroke-width="1" />
<line x1="673.00" y1="252.10" x2="671.00" y2="252.10" stroke="#262626" stroke-width="1" />
<line x1="405.10" y1="248.97" x2="407.10" y2="248.97" stroke="#262626" stroke-width="1" />
<line x1="673.00" y1="248.97" x2="671.00" y2="248.97" stroke="#262626" stroke-width="1" />
<line x1="405.10" y1="246.21" x2="407.10" y2="246.21" stroke="#262626" stroke-width="1" />
<line x1="673.00" y1="246.21" x2="671.00" y2="246.21" stroke="#262626" stroke-width="1" />
<line x1="405.10" y1="243.73" x2="408.60" y2="243.73" stroke="#262626" stroke-width="1" />
<line x1="673.00" y1="243.73" x2="669.50" y2="243.73" stroke="#262626" stroke-width="1" />
<line x1="405.10" y1="227.47" x2="407.10" y2="227.47" stroke="#262626" stroke-width="1" />
<line x1="673.00" y1="227.47" x2="671.00" y2="227.47" stroke="#262626" stroke-width="1" />
<line x1="405.10" y1="217.95" x2="407.10" y2="217.95" stroke="#262626" stroke-width="1" />
<line x1="673.00" y1="217.95" x2="671.00" y2="217.95" stroke="#262626" stroke-width="1" />
<line x1="405.10" y1="211.20" x2="407.10" y2="211.20" stroke="#262626" stroke-width="1" />
<line x1="673.00" y1="211.20" x2="671.00" y2="211.20" stroke="#262626" stroke-width="1" />
<line x1="405.10" y1="205.97" x2="407.10" y2="205.97" stroke="#262626" stroke-width="1" />
<line x1="673.00" y1="205.97" x2="671.00" y2="205.97" stroke="#262626" stroke-width="1" />
<line x1="405.10" y1="201.69" x2="407.10" y2="201.69" stroke="#262626" stroke-width="1" />
<line x1="673.00" y1="201.69" x2="671.00" y2="201.69" stroke="#262626" stroke-width="1" />
<line x1="405.10" y1="198.07" x2="407.10" y2="198.07" stroke="#262626" stroke-width="1" />
<line x1="673.00" y1="198.07" x2="671.00" y2="198.07" stroke="#262626" stroke-width="1" />
<line x1="405.10" y1="194.94" x2="407.10" y2="194.94" stroke="#262626" stroke-width="1" />
<line x1="673.00" y1="194.94" x2="671.00" y2="194.94" stroke="#262626" stroke-width="1" />
<line x1="405.10" y1="192.17" x2="407.10" y2="192.17" stroke="#262626" stroke-width="1" />
<line x1="673.00" y1="192.17" x2="671.00" y2="192.17" stroke="#262626" stroke-width="1" />
<line x1="405.10" y1="189.70" x2="408.60" y2="189.70" stroke="#262626" stroke-width="1" />
<line x1="673.00" y1="189.70" x2="669.50" y2="189.70" stroke="#262626" stroke-width="1" />
<line x1="405.10" y1="173.43" x2="407.10" y2="173.43" stroke="#262626" stroke-width="1" />
<line x1="673.00" y1="173.43" x2="671.00" y2="173.43" stroke="#262626" stroke-width="1" />
<line x1="405.10" y1="163.92" x2="407.10" y2="163.92" stroke="#262626" stroke-width="1" />
<line x1="673.00" y1="163.92" x2="671.00" y2="163.92" stroke="#262626" stroke-width="1" />
<line x1="405.10" y1="157.17" x2="407.10" y2="157.17" stroke="#262626" stroke-width="1" />
<line x1="673.00" y1="157.17" x2="671.00" y2="157.17" stroke="#262626" stroke-width="1" />
<line x1="405.10" y1="151.93" x2="407.10" y2="151.93" stroke="#262626" stroke-width="1" />
<line x1="673.00" y1="151.93" x2="671.00" y2="151.93" stroke="#262626" stroke-width="1" />
<line x1="405.10" y1="147.65" x2="407.10" y2="147.65" stroke="#262626" stroke-width="1" />
<line x1="673.00" y1="147.65" x2="671.00" y2="147.65" stroke="#262626" stroke-width="1" />
<line x1="405.10" y1="144.04" x2="407.10" y2="144.04" stroke="#262626" stroke-width="1" />
<line x1="673.00" y1="144.04" x2="671.00" y2="144.04" stroke="#262626" stroke-width="1" />
<line x1="405.10" y1="140.90" x2="407.10" y2="140.90" stroke="#262626" stroke-width="1" />
<line x1="673.00" y1="140.90" x2="671.00" y2="140.90" stroke="#262626" stroke-width="1" />
<line x1="405.10" y1="138.14" x2="407.10" y2="138.14" stroke="#262626" stroke-width="1" />
<line x1="673.00" y1="138.14" x2="671.00" y2="138.14" stroke="#262626" stroke-width="1" />
<line x1="405.10" y1="135.67" x2="408.60" y2="135.67" stroke="#262626" stroke-width="1" />
<line x1="673.00" y1="135.67" x2="669.50" y2="135.67" stroke="#262626" stroke-width="1" />
<line x1="405.10" y1="119.40" x2="407.10" y2="119.40" stroke="#262626" stroke-width="1" />
<line x1="673.00" y1="119.40" x2="671.00" y2="119.40" stroke="#262626" stroke-width="1" />
<line x1="405.10" y1="109.89" x2="407.10" y2="109.89" stroke="#262626" stroke-width="1" />
<line x1="673.00" y1="109.89" x2="671.00" y2="109.89" stroke="#262626" stroke-width="1" />
<line x1="405.10" y1="103.14" x2="407.10" y2="103.14" stroke="#262626" stroke-width="1" />
<line x1="673.00" y1="103.14" x2="671.00" y2="103.14" stroke="#262626" stroke-width="1" />
<line x1="405.10" y1="97.90" x2="407.10" y2="97.90" stroke="#262626" stroke-width="1" />
<line x1="673.00" y1="97.90" x2="671.00" y2="97.90" stroke="#262626" stroke-width="1" />
<line x1="405.10" y1="93.62" x2="407.10" y2="93.62" stroke="#262626" stroke-width="1" />
<line x1="673.00" y1="93.62" x2="671.00" y2="93.62" stroke="#262626" stroke-width="1" />
<line x1="405.10" y1="90.00" x2="407.10" y2="90.00" stroke="#262626" stroke-width="1" />
<line x1="673.00" y1="90.00" x2="671.00" y2="90.00" stroke="#262626" stroke-width="1" />
<line x1="405.10" y1="86.87" x2="407.10" y2="86.87" stroke="#262626" stroke-width="1" />
<line x1="673.00" y1="86.87" x2="671.00" y2="86.87" stroke="#262626" stroke-width="1" />
<line x1="405.10" y1="84.11" x2="407.10" y2="84.11" stroke="#262626" stroke-width="1" />
<line x1="673.00" y1="84.11" x2="671.00" y2="84.11" stroke="#262626" stroke-width="1" />
<line x1="405.10" y1="81.63" x2="408.60" y2="81.63" stroke="#262626" stroke-width="1" />
<line x1="673.00" y1="81.63" x2="669.50" y2="81.63" stroke="#262626" stroke-width="1" />
<line x1="405.10" y1="65.37" x2="407.10" y2="65.37" stroke="#262626" stroke-width="1" />
<line x1="673.00" y1="65.37" x2="671.00" y2="65.37" stroke="#262626" stroke-width="1" />
<line x1="405.10" y1="55.85" x2="407.10" y2="55.85" stroke="#262626" stroke-width="1" />
<line x1="673.00" y1="55.85" x2="671.00" y2="55.85" stroke="#262626" stroke-width="1" />
<line x1="405.10" y1="49.10" x2="407.10" y2="49.10" stroke="#262626" stroke-width="1" />
<line x1="673.00" y1="49.10" x2="671.00" y2="49.10" stroke="#262626" stroke-width="1" />
<line x1="405.10" y1="43.87" x2="407.10" y2="43.87" stroke="#262626" stroke-width="1" />
<line x1="673.00" y1="43.87" x2="671.00" y2="43.87" stroke="#262626" stroke-width="1" />
<line x1="405.10" y1="39.59" x2="407.10" y2="39.59" stroke="#262626" stroke-width="1" />
<line x1="673.00" y1="39.59" x2="671.00" y2="39.59" stroke="#262626" stroke-width="1" />
<line x1="405.10" y1="35.97" x2="407.10" y2="35.97" stroke="#262626" stroke-width="1" />
<line x1="673.00" y1="35.97" x2="671.00" y2="35.97" stroke="#262626" stroke-width="1" />
<line x1="405.10" y1="32.84" x2="407.10" y2="32.84" stroke="#262626" stroke-width="1" />
<line x1="673.00" y1="32.84" x2="671.00" y2="32.84" stroke="#262626" stroke-width="1" />
<line x1="405.10" y1="30.07" x2="407.10" y2="30.07" stroke="#262626" stroke-width="1" />
<line x1="673.00" y1="30.07" x2="671.00" y2="30.07" stroke="#262626" stroke-width="1" />
<text x="400.56" y="370.60" font-size="15.6" fill="#262626" stroke="#262626" stroke-width="0.35" >0</text>
<text x="519.35" y="370.60" font-size="15.6" fill="#262626" stroke="#262626" stroke-width="0.35" >0.005</text>
<text x="657.70" y="370.60" font-size="15.6" fill="#262626" stroke="#262626" stroke-width="0.35" >0.01</text>
<text x="376.08" y="33.80" font-size="15.6" fill="#262626" stroke="#262626" stroke-width="0.35" >10</text>
<text x="393.89" y="29.40" font-size="10.2" fill="#262626" stroke="#262626" stroke-width="0.2" >5</text>
<text x="376.08" y="87.80" font-size="15.6" fill="#262626" stroke="#262626" stroke-width="0.35" >10</text>
<text x="394.07" y="83.40" font-size="10.2" fill="#262626" stroke="#262626" stroke-width="0.2" >4</text>
<text x="376.08" y="142.40" font-size="15.6" fill="#262626" stroke="#262626" stroke-width="0.35" >10</text>
<text x="393.91" y="138.30" font-size="10.2" fill="#262626" stroke="#262626" stroke-width="0.2" >3</text>
<text x="376.08" y="196.50" font-size="15.6" fill="#262626" stroke="#262626" stroke-width="0.35" >10</text>
<text x="393.79" y="192.60" font-size="10.2" fill="#262626" stroke="#262626" stroke-width="0.2" >2</text>
<text x="376.08" y="250.50" font-size="15.6" fill="#262626" stroke="#262626" stroke-width="0.35" >10</text>
<text x="393.52" y="246.50" font-size="10.2" fill="#262626" stroke="#262626" stroke-width="0.2" >1</text>
<text x="376.08" y="305.00" font-size="15.6" fill="#262626" stroke="#262626" stroke-width="0.35" >10</text>
<text x="393.90" y="300.50" font-size="10.2" fill="#262626" stroke="#262626" stroke-width="0.2" >0</text>
<text x="524.67" y="390.40" font-size="15.3" font-style="italic" fill="#262626" stroke="#262626" stroke-width="0.35" >g</text>
<text x="532.62" y="394.30" font-size="10.3" fill="#262626" stroke="#262626" stroke-width="0.2" >r</text>
<text x="537.40" y="390.40" font-size="15.3" fill="#262626" stroke="#262626" stroke-width="0.35" >/</text>
<text x="542.77" y="390.40" font-size="15.3" font-style="italic" fill="#262626" stroke="#262626" stroke-width="0.35" >g</text>
<text x="551.12" y="394.30" font-size="10.3" fill="#262626" stroke="#262626" stroke-width="0.2" >1</text>
<g transform="translate(361,225.3) rotate(-90)">
<text x="-0.42" y="0.00" font-size="14.2" fill="#262626" stroke="#262626" stroke-width="0.35" >Δ</text>
<text x="9.75" y="0.00" font-size="15.0" font-style="italic" fill="#262626" stroke="#262626" stroke-width="0.35" >n</text>
<text x="17.76" y="4.00" font-size="10.0" fill="#262626" stroke="#262626" stroke-width="0.2" >b</text>
<text x="24.00" y="0.00" font-size="15.0" fill="#262626" stroke="#262626" stroke-width="0.35" >/</text>
<text x="29.15" y="0.00" font-size="15.0" font-style="italic" fill="#262626" stroke="#262626" stroke-width="0.35" >T</text>
<text x="41.67" y="0.00" font-size="15.0" fill="#262626" stroke="#262626" stroke-width="0.35" >(</text>
<text x="46.58" y="0.00" font-size="15.0" fill="#262626" stroke="#262626" stroke-width="0.35" >s</text>
<text x="54.58" y="-4.60" font-size="10.6" fill="#262626" stroke="#262626" stroke-width="0.2" >−1</text>
<text x="67.11" y="0.00" font-size="15.0" fill="#262626" stroke="#262626" stroke-width="0.35" >)</text>
</g>
<circle cx="428.90" cy="220.40" r="3.0" fill="none" stroke="#D95319" stroke-width="2.2"/>
<text x="443.47" y="217.60" font-size="8.4" font-style="italic" fill="#262626" stroke="#262626" stroke-width="0.2" >δC</text>
<line x1="443.50" y1="219.50" x2="454.50" y2="219.50" stroke="#262626" stroke-width="1.0" />
<text x="444.59" y="227.50" font-size="7.7" font-style="italic" fill="#262626" stroke="#262626" stroke-width="0.2" >C</text>
<text x="450.29" y="230.00" font-size="5.5" fill="#262626" stroke="#262626" stroke-width="0.2" >0</text>
<text x="456.60" y="222.80" font-size="10.2" fill="#262626" stroke="#262626" stroke-width="0.2" >=</text>
<text x="466.10" y="222.80" font-size="10.2" fill="#262626" stroke="#262626" stroke-width="0.2" >0,</text>
<text x="479.29" y="217.60" font-size="8.4" font-style="italic" fill="#262626" stroke="#262626" stroke-width="0.2" >δL</text>
<line x1="478.30" y1="219.50" x2="489.30" y2="219.50" stroke="#262626" stroke-width="1.0" />
<text x="481.47" y="228.60" font-size="9.0" font-style="italic" fill="#262626" stroke="#262626" stroke-width="0.2" >L</text>
<text x="491.90" y="222.80" font-size="10.2" fill="#262626" stroke="#262626" stroke-width="0.2" >=</text>
<text x="501.60" y="222.80" font-size="10.2" fill="#262626" stroke="#262626" stroke-width="0.2" >0.2,</text>
<text x="524.72" y="217.60" font-size="8.4" font-style="italic" fill="#262626" stroke="#262626" stroke-width="0.2" >δR</text>
<line x1="524.60" y1="219.50" x2="535.60" y2="219.50" stroke="#262626" stroke-width="1.0" />
<text x="526.85" y="228.60" font-size="9.0" font-style="italic" fill="#262626" stroke="#262626" stroke-width="0.2" >R</text>
<text x="539.50" y="222.80" font-size="10.2" fill="#262626" stroke="#262626" stroke-width="0.2" >=</text>
<text x="549.50" y="222.80" font-size="10.2" fill="#262626" stroke="#262626" stroke-width="0.2" >0.2</text>
<rect x="426.30" y="245.70" width="5.6" height="5.6" fill="none" stroke="#EDB120" stroke-width="2.0"/>
<text x="443.17" y="245.30" font-size="8.4" font-style="italic" fill="#262626" stroke="#262626" stroke-width="0.2" >δC</text>
<line x1="443.20" y1="247.20" x2="454.20" y2="247.20" stroke="#262626" stroke-width="1.0" />
<text x="444.29" y="255.20" font-size="7.7" font-style="italic" fill="#262626" stroke="#262626" stroke-width="0.2" >C</text>
<text x="449.99" y="257.70" font-size="5.5" fill="#262626" stroke="#262626" stroke-width="0.2" >0</text>
<text x="456.30" y="250.50" font-size="10.2" fill="#262626" stroke="#262626" stroke-width="0.2" >=</text>
<text x="466.20" y="250.50" font-size="10.2" fill="#262626" stroke="#262626" stroke-width="0.2" >0.005,</text>
<text x="500.89" y="245.30" font-size="8.4" font-style="italic" fill="#262626" stroke="#262626" stroke-width="0.2" >δL</text>
<line x1="499.90" y1="247.20" x2="510.90" y2="247.20" stroke="#262626" stroke-width="1.0" />
<text x="503.07" y="256.30" font-size="9.0" font-style="italic" fill="#262626" stroke="#262626" stroke-width="0.2" >L</text>
<text x="515.20" y="250.50" font-size="10.2" fill="#262626" stroke="#262626" stroke-width="0.2" >=</text>
<text x="525.50" y="250.50" font-size="10.2" fill="#262626" stroke="#262626" stroke-width="0.2" >0.1,</text>
<text x="548.92" y="245.30" font-size="8.4" font-style="italic" fill="#262626" stroke="#262626" stroke-width="0.2" >δR</text>
<line x1="548.80" y1="247.20" x2="559.80" y2="247.20" stroke="#262626" stroke-width="1.0" />
<text x="551.05" y="256.30" font-size="9.0" font-style="italic" fill="#262626" stroke="#262626" stroke-width="0.2" >R</text>
<text x="564.10" y="250.50" font-size="10.2" fill="#262626" stroke="#262626" stroke-width="0.2" >=</text>
<text x="574.40" y="250.50" font-size="10.2" fill="#262626" stroke="#262626" stroke-width="0.2" >0.1</text>
<path d="M429.20,268.20 L431.95,272.00 L429.20,275.80 L426.45,272.00 Z" fill="none" stroke="#7E2F8E" stroke-width="2.1"/>
<text x="442.77" y="268.60" font-size="8.4" font-style="italic" fill="#262626" stroke="#262626" stroke-width="0.2" >δC</text>
<line x1="442.80" y1="270.50" x2="453.80" y2="270.50" stroke="#262626" stroke-width="1.0" />
<text x="443.89" y="278.50" font-size="7.7" font-style="italic" fill="#262626" stroke="#262626" stroke-width="0.2" >C</text>
<text x="449.59" y="281.00" font-size="5.5" fill="#262626" stroke="#262626" stroke-width="0.2" >0</text>
<text x="457.30" y="273.80" font-size="10.2" fill="#262626" stroke="#262626" stroke-width="0.2" >=</text>
<text x="467.20" y="273.80" font-size="10.2" fill="#262626" stroke="#262626" stroke-width="0.2" >0.02,</text>
<text x="496.99" y="268.60" font-size="8.4" font-style="italic" fill="#262626" stroke="#262626" stroke-width="0.2" >δL</text>
<line x1="496.00" y1="270.50" x2="507.00" y2="270.50" stroke="#262626" stroke-width="1.0" />
<text x="499.17" y="279.60" font-size="9.0" font-style="italic" fill="#262626" stroke="#262626" stroke-width="0.2" >L</text>
<text x="511.40" y="273.80" font-size="10.2" fill="#262626" stroke="#262626" stroke-width="0.2" >=</text>
<text x="519.20" y="273.80" font-size="10.2" fill="#262626" stroke="#262626" stroke-width="0.2" >0,</text>
<text x="534.42" y="268.60" font-size="8.4" font-style="italic" fill="#262626" stroke="#262626" stroke-width="0.2" >δR</text>
<line x1="534.30" y1="270.50" x2="545.30" y2="270.50" stroke="#262626" stroke-width="1.0" />
<text x="536.55" y="279.60" font-size="9.0" font-style="italic" fill="#262626" stroke="#262626" stroke-width="0.2" >R</text>
<text x="549.70" y="273.80" font-size="10.2" fill="#262626" stroke="#262626" stroke-width="0.2" >=</text>
<text x="558.60" y="273.80" font-size="10.2" fill="#262626" stroke="#262626" stroke-width="0.2" >0</text>
<path d="M420.30,292.80 L436.00,292.80" fill="none" stroke="#404040" stroke-width="2.3" stroke-dasharray="2.3 2.1"/>
<path d="M420.10,313.90 L428.90,313.90" fill="none" stroke="#4d4d4d" stroke-width="2.0" />
<path d="M420.30,336.80 L437.80,336.80" fill="none" stroke="#4d4d4d" stroke-width="2.0" />
<text x="442.18" y="295.40" font-size="10.9" fill="#262626" stroke="#262626" stroke-width="0.2" >Analytical,</text>
<text x="494.77" y="289.30" font-size="8.4" font-style="italic" fill="#262626" stroke="#262626" stroke-width="0.2" >δC</text>
<line x1="494.80" y1="291.20" x2="505.80" y2="291.20" stroke="#262626" stroke-width="1.0" />
<text x="495.89" y="299.20" font-size="7.7" font-style="italic" fill="#262626" stroke="#262626" stroke-width="0.2" >C</text>
<text x="501.59" y="301.70" font-size="5.5" fill="#262626" stroke="#262626" stroke-width="0.2" >0</text>
<text x="509.40" y="294.00" font-size="10.2" fill="#262626" stroke="#262626" stroke-width="0.2" >=</text>
<text x="519.30" y="294.00" font-size="10.2" fill="#262626" stroke="#262626" stroke-width="0.2" >0</text>
<text x="442.18" y="316.40" font-size="10.9" fill="#262626" stroke="#262626" stroke-width="0.2" >Analytical,</text>
<text x="494.77" y="310.60" font-size="8.4" font-style="italic" fill="#262626" stroke="#262626" stroke-width="0.2" >δC</text>
<line x1="494.80" y1="312.50" x2="505.80" y2="312.50" stroke="#262626" stroke-width="1.0" />
<text x="495.89" y="320.50" font-size="7.7" font-style="italic" fill="#262626" stroke="#262626" stroke-width="0.2" >C</text>
<text x="501.59" y="323.00" font-size="5.5" fill="#262626" stroke="#262626" stroke-width="0.2" >0</text>
<text x="509.80" y="315.30" font-size="10.2" fill="#262626" stroke="#262626" stroke-width="0.2" >=</text>
<text x="519.60" y="315.30" font-size="10.2" fill="#262626" stroke="#262626" stroke-width="0.2" >0.005</text>
<text x="442.18" y="339.80" font-size="10.9" fill="#262626" stroke="#262626" stroke-width="0.2" >Analytical,</text>
<text x="494.77" y="334.20" font-size="8.4" font-style="italic" fill="#262626" stroke="#262626" stroke-width="0.2" >δC</text>
<line x1="494.80" y1="336.10" x2="505.80" y2="336.10" stroke="#262626" stroke-width="1.0" />
<text x="495.89" y="344.10" font-size="7.7" font-style="italic" fill="#262626" stroke="#262626" stroke-width="0.2" >C</text>
<text x="501.59" y="346.60" font-size="5.5" fill="#262626" stroke="#262626" stroke-width="0.2" >0</text>
<text x="509.90" y="338.90" font-size="10.2" fill="#262626" stroke="#262626" stroke-width="0.2" >=</text>
<text x="519.20" y="338.90" font-size="10.2" fill="#262626" stroke="#262626" stroke-width="0.2" >0.02</text>
</svg>
</body></html>
